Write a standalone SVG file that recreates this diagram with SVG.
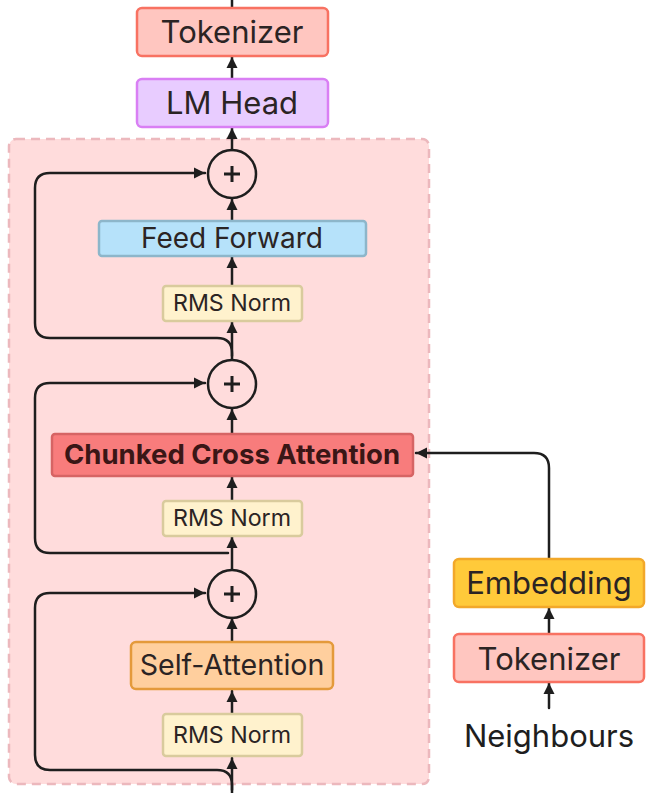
<svg xmlns="http://www.w3.org/2000/svg" width="654" height="793" viewBox="0 0 654 793">
<defs>
<style>
text{font-family:Inter,"Noto Sans","Liberation Sans",sans-serif;fill:#2b2424;text-anchor:middle;font-weight:400}
.box{stroke-width:2.5}
.c{fill:none;stroke:#1e1e1e;stroke-width:2.5;stroke-linecap:round;stroke-linejoin:round}
.arr{marker-end:url(#ah)}
.big{font-size:31px}
.mid{font-size:28px}
.sm{font-size:23.2px}
</style>
<marker id="ah" markerUnits="userSpaceOnUse" markerWidth="14" markerHeight="14" viewBox="0 0 14 14" refX="12" refY="7" orient="auto">
<path d="M1,1.5 L12,7 L1,12.5 Z" fill="#1e1e1e"/>
</marker>
</defs>
<rect x="0" y="0" width="654" height="793" fill="#ffffff"/>
<g id="container">
<rect x="9" y="139" width="420" height="645" rx="7" fill="#ffdcdc" stroke="#ecb8bd" stroke-width="2.5" stroke-dasharray="9,6"/>
</g>
<g id="connectors">
<path class="c" d="M232,7 V0"/>
<path class="c arr" d="M232,78 V57"/>
<path class="c arr" d="M232,150 V128"/>
<path class="c arr" d="M232,220 V199"/>
<path class="c arr" d="M232,285 V257"/>
<path class="c arr" d="M232,359 V322"/>
<path class="c arr" d="M232,356 V353 Q232,338 217,338 H50 Q35,338 35,323 V188 Q35,173 50,173 H205"/>
<path class="c arr" d="M232,433 V409"/>
<path class="c arr" d="M232,500 V477"/>
<path class="c arr" d="M232,569 V537"/>
<path class="c arr" d="M228,553 H50 Q35,553 35,538 V398 Q35,383 50,383 H205"/>
<path class="c arr" d="M232,641 V618"/>
<path class="c arr" d="M232,713 V691"/>
<path class="c arr" d="M232,793 V758"/>
<path class="c arr" d="M232,790 V785 Q232,770 217,770 H50 Q35,770 35,755 V608 Q35,593 50,593 H205"/>
<path class="c arr" d="M549,558 V468 Q549,453 534,453 H416"/>
<path class="c arr" d="M549,634 V608"/>
<path class="c arr" d="M549,708 V683"/>
</g>
<g id="tokenizer-out">
<rect class="box" x="137" y="8" width="191" height="48" rx="5" fill="#ffc6c0" stroke="#f87262"/>
<text class="big" x="232" y="43">Tokenizer</text>
</g>
<g id="lm-head">
<rect class="box" x="137" y="79" width="191" height="48" rx="5" fill="#e8ccff" stroke="#d97ff4"/>
<text class="big" x="232" y="114">LM Head</text>
</g>
<g id="plus-1">
<circle cx="232" cy="174" r="24" fill="none" stroke="#1e1e1e" stroke-width="2.5"/>
<path d="M224,174 H240 M232,166 V182" stroke="#1e1e1e" stroke-width="3"/>
</g>
<g id="feed-forward">
<rect class="box" x="99" y="221" width="267" height="35" rx="3" fill="#b6e2fa" stroke="#8db6ca"/>
<text class="mid" x="232" y="248">Feed Forward</text>
</g>
<g id="rms-norm-1">
<rect class="box" x="163" y="286" width="139" height="35" rx="3" fill="#fff2cd" stroke="#d9cb9d"/>
<text class="sm" x="232" y="311">RMS Norm</text>
</g>
<g id="plus-2">
<circle cx="232" cy="384" r="24" fill="none" stroke="#1e1e1e" stroke-width="2.5"/>
<path d="M224,384 H240 M232,376 V392" stroke="#1e1e1e" stroke-width="3"/>
</g>
<g id="chunked-cross-attention">
<rect class="box" x="52" y="434" width="361" height="42" rx="3" fill="#f87c7c" stroke="#d66464"/>
<text x="232" y="464" font-size="27.5" style="fill:#3a1616;font-weight:700">Chunked Cross Attention</text>
</g>
<g id="rms-norm-2">
<rect class="box" x="163" y="501" width="139" height="35" rx="3" fill="#fff2cd" stroke="#d9cb9d"/>
<text class="sm" x="232" y="526">RMS Norm</text>
</g>
<g id="plus-3">
<circle cx="232" cy="594" r="24" fill="none" stroke="#1e1e1e" stroke-width="2.5"/>
<path d="M224,594 H240 M232,586 V602" stroke="#1e1e1e" stroke-width="3"/>
</g>
<g id="self-attention">
<rect class="box" x="131" y="642" width="202" height="47" rx="5" fill="#ffcf9e" stroke="#e49a3b"/>
<text class="mid" x="232" y="675" style="font-size:28.6px">Self-Attention</text>
</g>
<g id="rms-norm-3">
<rect class="box" x="163" y="714" width="139" height="42" rx="3" fill="#fff2cd" stroke="#d9cb9d"/>
<text class="sm" x="232" y="743">RMS Norm</text>
</g>
<g id="embedding">
<rect class="box" x="454" y="559" width="190" height="48" rx="5" fill="#ffca3a" stroke="#f2a82a"/>
<text class="big" x="549" y="594">Embedding</text>
</g>
<g id="tokenizer-in">
<rect class="box" x="454" y="634" width="190" height="48" rx="5" fill="#ffc6c0" stroke="#f87262"/>
<text class="big" x="549" y="670">Tokenizer</text>
</g>
<g id="neighbours">
<text class="big" x="549" y="747" style="fill:#1e1e1e">Neighbours</text>
</g>
</svg>
